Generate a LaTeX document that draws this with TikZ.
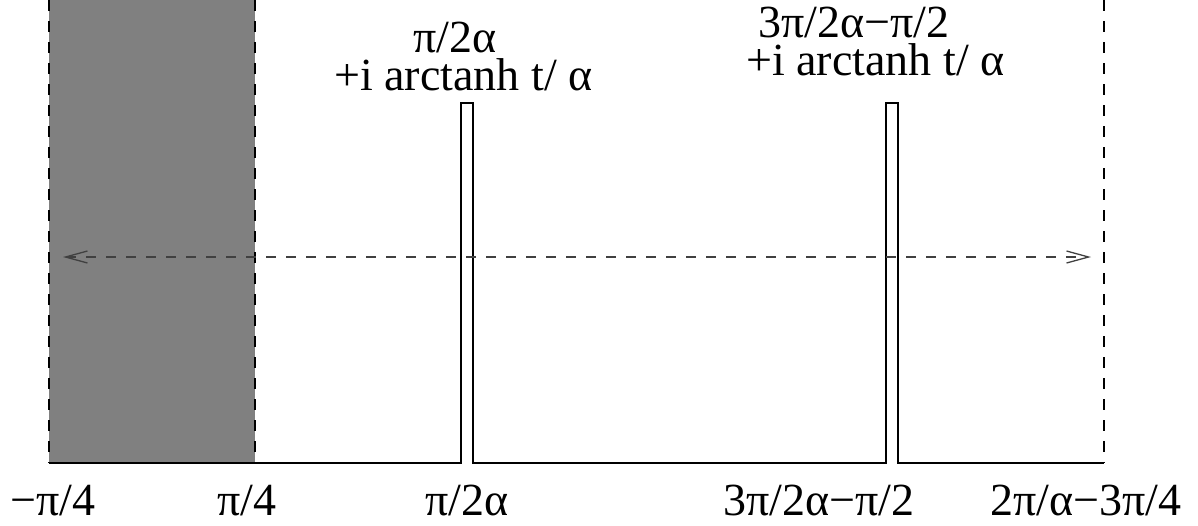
\documentclass[tikz,border=0pt]{standalone}
\usepackage{fontspec}
\setmainfont{Liberation Serif}
\usetikzlibrary{arrows.meta}
\tikzset{
  lbl/.style={anchor=base, inner sep=0pt, font=\fontsize{46}{46}\selectfont},
  toplbl/.style={anchor=base west, inner sep=0pt, align=left, font=\fontsize{46}{38}\selectfont},
  vdash/.style={draw=black, line width=1.3pt, dash pattern=on 11pt off 10pt},
  wall/.style={draw=black, line width=2.2pt, line join=miter},
  dblarrow/.style={draw=black!75, line width=1.3pt, dash pattern=on 10pt off 10pt,
    {Straight Barb[length=22pt,width=12pt,line width=1.3pt]}-{Straight Barb[length=22pt,width=12pt,line width=1.3pt]}}
}
\begin{document}
\begin{tikzpicture}[x=1pt,y=-1pt]
\useasboundingbox (0,0) rectangle (1198,525);
% shaded strip
\fill[black!50] (49,0) rectangle (255,463);
% dashed borders
\coordinate (lt) at (49,0);   \coordinate (lb) at (49,463);
\coordinate (st) at (255,0);  \coordinate (sb) at (255,463);
\coordinate (rt) at (1104,0); \coordinate (rb) at (1104,463);
\draw[vdash] (lt) -- (lb);
\draw[vdash] (st) -- (sb);
\draw[vdash] (rt) -- (rb);
% boundary with two slits
\draw[wall] (lb) -- (461,463) -- (461,103) -- (473,103) -- (473,463)
  -- (886,463) -- (886,103) -- (898,103) -- (898,463) -- (rb);
% double arrow
\coordinate (aL) at (63,257);
\coordinate (aR) at (1091,257);
\draw[dblarrow] (aL) -- (aR);
% bottom labels
\node[lbl] (b1) at (53,515) {−π/4};
\node[lbl] (b2) at (247,515) {π/4};
\node[lbl] (b3) at (467,515) {π/2α};
\node[lbl] (b4) at (819,515) {3π/2α−π/2};
\node[lbl] (b5) at (1086,515) {2π/α−3π/4};
% top labels
\node[toplbl] (t1) at (334,90) {\hspace*{79pt}π/2α\\+i arctanh t/ α};
\node[toplbl] (t2) at (746,75) {\hspace*{12pt}3π/2α−π/2\\+i arctanh t/ α};
\end{tikzpicture}
\end{document}
